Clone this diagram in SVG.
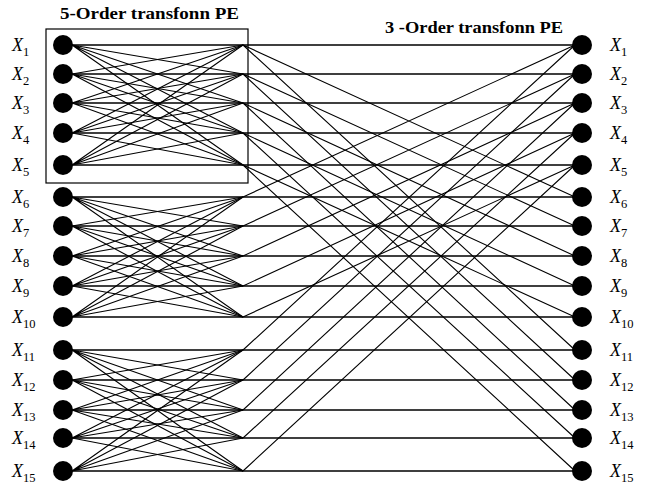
<svg xmlns="http://www.w3.org/2000/svg" width="651" height="485" viewBox="0 0 651 485">
<style>
.bg{fill:#fff}
.c{stroke:#000;stroke-width:1.1;fill:none}
.h{stroke:#000;stroke-width:1.4;fill:none}
.box{stroke:#000;stroke-width:1.2;fill:none}
.n{fill:#000}
.t{font-family:"Liberation Serif","Times New Roman",serif;font-weight:bold;font-size:16px;fill:#000}
.lx{font-family:"Liberation Serif","Times New Roman",serif;font-style:italic;font-size:18px;fill:#000}
.ls{font-family:"Liberation Serif","Times New Roman",serif;font-size:12.5px;font-style:normal}
</style>
<rect class="bg" x="0" y="0" width="651" height="485"/>
<text class="t" x="60" y="19" textLength="179" lengthAdjust="spacingAndGlyphs">5-Order transfonn PE</text>
<text class="t" x="385" y="33" textLength="178" lengthAdjust="spacingAndGlyphs">3 -Order transfonn PE</text>
<rect id="pe5" class="box" x="46" y="29" width="202" height="154"/>
<g id="connectors">
<g id="stage1">
<path class="c" d="M72 45L243 74M72 45L243 103M72 45L243 133M72 45L243 165"/>
<path class="c" d="M72 74L243 45M72 74L243 103M72 74L243 133M72 74L243 165"/>
<path class="c" d="M72 103L243 45M72 103L243 74M72 103L243 133M72 103L243 165"/>
<path class="c" d="M72 133L243 45M72 133L243 74M72 133L243 103M72 133L243 165"/>
<path class="c" d="M72 165L243 45M72 165L243 74M72 165L243 103M72 165L243 133"/>
<path class="c" d="M72 197L243 226M72 197L243 256M72 197L243 286M72 197L243 317"/>
<path class="c" d="M72 226L243 197M72 226L243 256M72 226L243 286M72 226L243 317"/>
<path class="c" d="M72 256L243 197M72 256L243 226M72 256L243 286M72 256L243 317"/>
<path class="c" d="M72 286L243 197M72 286L243 226M72 286L243 256M72 286L243 317"/>
<path class="c" d="M72 317L243 197M72 317L243 226M72 317L243 256M72 317L243 286"/>
<path class="c" d="M72 350L243 380M72 350L243 410M72 350L243 438M72 350L243 471"/>
<path class="c" d="M72 380L243 350M72 380L243 410M72 380L243 438M72 380L243 471"/>
<path class="c" d="M72 410L243 350M72 410L243 380M72 410L243 438M72 410L243 471"/>
<path class="c" d="M72 438L243 350M72 438L243 380M72 438L243 410M72 438L243 471"/>
<path class="c" d="M72 471L243 350M72 471L243 380M72 471L243 410M72 471L243 438"/>
</g>
<g id="horizontals">
<path class="h" d="M72 45H575M72 74H575M72 103H575M72 133H575M72 165H575M72 197H575M72 226H575M72 256H575M72 286H575M72 317H575M72 350H575M72 380H575M72 410H575M72 438H575M72 471H575"/>
</g>
<g id="stage2">
<path class="c" d="M243 45L575 197M243 45L575 350M243 197L575 45M243 350L575 45"/>
<path class="c" d="M243 74L575 226M243 74L575 380M243 226L575 74M243 380L575 74"/>
<path class="c" d="M243 103L575 256M243 103L575 410M243 256L575 103M243 410L575 103"/>
<path class="c" d="M243 133L575 286M243 133L575 438M243 286L575 133M243 438L575 133"/>
<path class="c" d="M243 165L575 317M243 165L575 471M243 317L575 165M243 471L575 165"/>
</g>
</g>
<g id="in1"><circle class="n" cx="63" cy="45" r="10"/><text class="lx" x="12" y="51">X<tspan class="ls" dy="5">1</tspan></text></g>
<g id="in2"><circle class="n" cx="63" cy="74" r="10"/><text class="lx" x="12" y="80">X<tspan class="ls" dy="5">2</tspan></text></g>
<g id="in3"><circle class="n" cx="63" cy="103" r="10"/><text class="lx" x="12" y="109">X<tspan class="ls" dy="5">3</tspan></text></g>
<g id="in4"><circle class="n" cx="63" cy="133" r="10"/><text class="lx" x="12" y="139">X<tspan class="ls" dy="5">4</tspan></text></g>
<g id="in5"><circle class="n" cx="63" cy="165" r="10"/><text class="lx" x="12" y="171">X<tspan class="ls" dy="5">5</tspan></text></g>
<g id="in6"><circle class="n" cx="63" cy="197" r="10"/><text class="lx" x="12" y="203">X<tspan class="ls" dy="5">6</tspan></text></g>
<g id="in7"><circle class="n" cx="63" cy="226" r="10"/><text class="lx" x="12" y="232">X<tspan class="ls" dy="5">7</tspan></text></g>
<g id="in8"><circle class="n" cx="63" cy="256" r="10"/><text class="lx" x="12" y="262">X<tspan class="ls" dy="5">8</tspan></text></g>
<g id="in9"><circle class="n" cx="63" cy="286" r="10"/><text class="lx" x="12" y="292">X<tspan class="ls" dy="5">9</tspan></text></g>
<g id="in10"><circle class="n" cx="63" cy="317" r="10"/><text class="lx" x="12" y="323">X<tspan class="ls" dy="5">10</tspan></text></g>
<g id="in11"><circle class="n" cx="63" cy="350" r="10"/><text class="lx" x="12" y="356">X<tspan class="ls" dy="5">11</tspan></text></g>
<g id="in12"><circle class="n" cx="63" cy="380" r="10"/><text class="lx" x="12" y="386">X<tspan class="ls" dy="5">12</tspan></text></g>
<g id="in13"><circle class="n" cx="63" cy="410" r="10"/><text class="lx" x="12" y="416">X<tspan class="ls" dy="5">13</tspan></text></g>
<g id="in14"><circle class="n" cx="63" cy="438" r="10"/><text class="lx" x="12" y="444">X<tspan class="ls" dy="5">14</tspan></text></g>
<g id="in15"><circle class="n" cx="63" cy="471" r="10"/><text class="lx" x="12" y="477">X<tspan class="ls" dy="5">15</tspan></text></g>
<g id="out1"><circle class="n" cx="582" cy="45" r="10"/><text class="lx" x="610" y="51">X<tspan class="ls" dy="5">1</tspan></text></g>
<g id="out2"><circle class="n" cx="582" cy="74" r="10"/><text class="lx" x="610" y="80">X<tspan class="ls" dy="5">2</tspan></text></g>
<g id="out3"><circle class="n" cx="582" cy="103" r="10"/><text class="lx" x="610" y="109">X<tspan class="ls" dy="5">3</tspan></text></g>
<g id="out4"><circle class="n" cx="582" cy="133" r="10"/><text class="lx" x="610" y="139">X<tspan class="ls" dy="5">4</tspan></text></g>
<g id="out5"><circle class="n" cx="582" cy="165" r="10"/><text class="lx" x="610" y="171">X<tspan class="ls" dy="5">5</tspan></text></g>
<g id="out6"><circle class="n" cx="582" cy="197" r="10"/><text class="lx" x="610" y="203">X<tspan class="ls" dy="5">6</tspan></text></g>
<g id="out7"><circle class="n" cx="582" cy="226" r="10"/><text class="lx" x="610" y="232">X<tspan class="ls" dy="5">7</tspan></text></g>
<g id="out8"><circle class="n" cx="582" cy="256" r="10"/><text class="lx" x="610" y="262">X<tspan class="ls" dy="5">8</tspan></text></g>
<g id="out9"><circle class="n" cx="582" cy="286" r="10"/><text class="lx" x="610" y="292">X<tspan class="ls" dy="5">9</tspan></text></g>
<g id="out10"><circle class="n" cx="582" cy="317" r="10"/><text class="lx" x="610" y="323">X<tspan class="ls" dy="5">10</tspan></text></g>
<g id="out11"><circle class="n" cx="582" cy="350" r="10"/><text class="lx" x="610" y="356">X<tspan class="ls" dy="5">11</tspan></text></g>
<g id="out12"><circle class="n" cx="582" cy="380" r="10"/><text class="lx" x="610" y="386">X<tspan class="ls" dy="5">12</tspan></text></g>
<g id="out13"><circle class="n" cx="582" cy="410" r="10"/><text class="lx" x="610" y="416">X<tspan class="ls" dy="5">13</tspan></text></g>
<g id="out14"><circle class="n" cx="582" cy="438" r="10"/><text class="lx" x="610" y="444">X<tspan class="ls" dy="5">14</tspan></text></g>
<g id="out15"><circle class="n" cx="582" cy="471" r="10"/><text class="lx" x="610" y="477">X<tspan class="ls" dy="5">15</tspan></text></g>
</svg>
